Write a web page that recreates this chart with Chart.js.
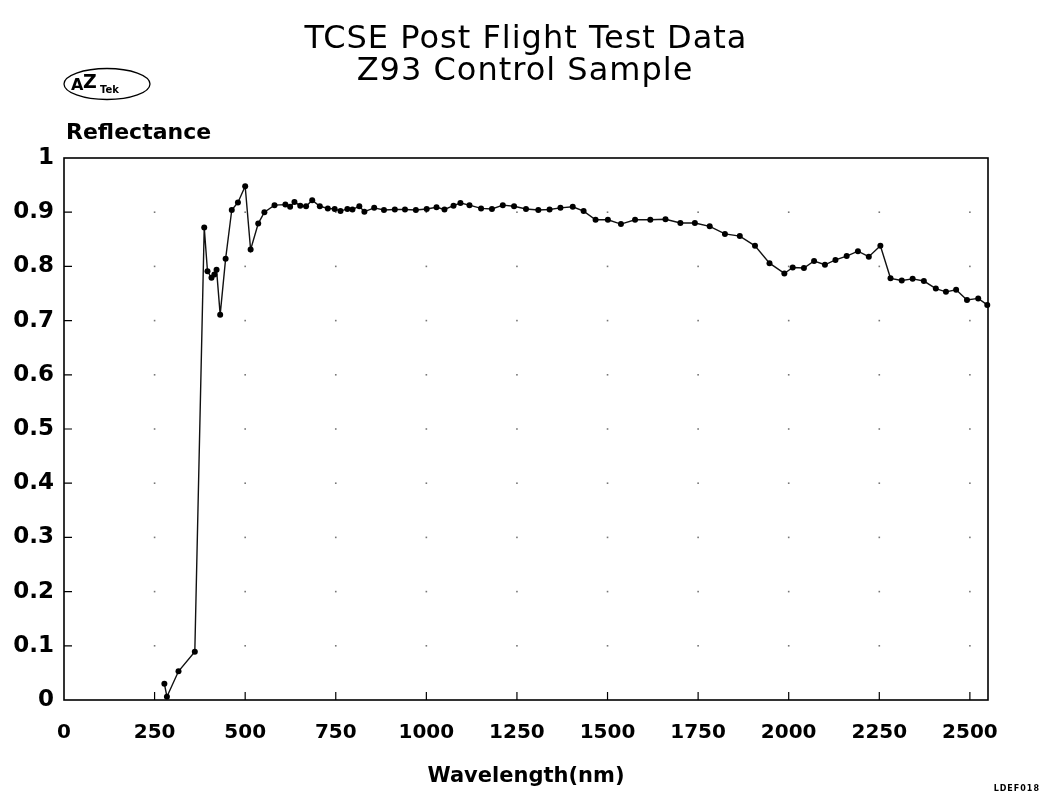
<!DOCTYPE html>
<html>
<head>
<meta charset="utf-8">
<script src="https://cdn.jsdelivr.net/npm/chart.js@4.4.1/dist/chart.umd.min.js"></script>
<style>
html,body{margin:0;padding:0;background:#fff;}
#wrap{width:1044px;height:799px;position:relative;}
canvas{display:block;}
</style>
</head>
<body>
<div id="wrap"><canvas id="c" width="1044" height="799"></canvas></div>
<script>
// ---- data ----
const wavelengths = [
  277, 284, 316, 361, 387, 396, 407, 415, 421, 431,
  446, 463, 480, 500, 515, 536, 553, 581, 611, 624,
  636, 652, 668, 685, 706, 728, 747, 763, 782, 796,
  815, 829, 856, 883, 913, 941, 971, 1001, 1028, 1050,
  1075, 1094, 1119, 1151, 1181, 1211, 1242, 1275, 1309, 1340,
  1370, 1404, 1434, 1467, 1501, 1537, 1576, 1618, 1660, 1701,
  1741, 1782, 1824, 1865, 1907, 1947, 1988, 2011, 2042, 2070,
  2100, 2129, 2160, 2191, 2221, 2253, 2281, 2312, 2342, 2373,
  2406, 2434, 2462, 2492, 2523, 2548
];
const reflectance = [
  0.030, 0.006, 0.053, 0.089, 0.872, 0.791, 0.779, 0.785, 0.794, 0.711,
  0.814, 0.904, 0.918, 0.948, 0.831, 0.879, 0.900, 0.913, 0.914, 0.910,
  0.919, 0.912, 0.911, 0.922, 0.911, 0.907, 0.906, 0.902, 0.906, 0.905,
  0.911, 0.901, 0.908, 0.904, 0.905, 0.905, 0.904, 0.906, 0.909, 0.905,
  0.912, 0.917, 0.913, 0.907, 0.906, 0.913, 0.911, 0.906, 0.904, 0.905,
  0.908, 0.910, 0.902, 0.886, 0.886, 0.878, 0.886, 0.886, 0.887, 0.880,
  0.880, 0.874, 0.860, 0.856, 0.838, 0.806, 0.787, 0.798, 0.797, 0.810,
  0.803, 0.812, 0.819, 0.828, 0.818, 0.838, 0.778, 0.774, 0.777, 0.773,
  0.759, 0.753, 0.757, 0.738, 0.741, 0.729
];
const xTickValues = [0, 250, 500, 750, 1000, 1250, 1500, 1750, 2000, 2250, 2500];
const yTickValues = [0, 0.1, 0.2, 0.3, 0.4, 0.5, 0.6, 0.7, 0.8, 0.9, 1];
const yTickLabels = ['0', '0.1', '0.2', '0.3', '0.4', '0.5', '0.6', '0.7', '0.8', '0.9', '1'];
const titleLines = ['TCSE Post Flight Test Data', 'Z93 Control Sample'];
const yAxisTitle = 'Reflectance';
const xAxisTitle = 'Wavelength(nm)';
const logoParts = ['A', 'Z', 'Tek'];
const footText = 'LDEF018';

const points = wavelengths.map((w, i) => ({x: w, y: reflectance[i]}));
const FONT = '"DejaVu Sans", "Liberation Sans", sans-serif';

const framePlugin = {
  id: 'frame',
  beforeDatasetsDraw(chart) {
    const {ctx, chartArea: a, scales: {x, y}} = chart;
    ctx.save();
    // sparse dotted grid at tick intersections
    ctx.fillStyle = '#777';
    for (let i = 1; i < xTickValues.length; i++) {
      for (let j = 1; j < yTickValues.length - 1; j++) {
        const px = x.getPixelForValue(xTickValues[i]);
        const py = y.getPixelForValue(yTickValues[j]);
        ctx.fillRect(px - 0.8, py - 0.8, 1.6, 1.6);
      }
    }
    // frame
    ctx.strokeStyle = '#000';
    ctx.lineWidth = 1.6;
    ctx.strokeRect(a.left, a.top, a.right - a.left, a.bottom - a.top);
    // inward tick marks
    ctx.lineWidth = 1.2;
    ctx.beginPath();
    for (let i = 1; i < xTickValues.length; i++) {
      const px = x.getPixelForValue(xTickValues[i]);
      ctx.moveTo(px, a.bottom);
      ctx.lineTo(px, a.bottom - 8);
    }
    for (let j = 1; j < yTickValues.length - 1; j++) {
      const py = y.getPixelForValue(yTickValues[j]);
      ctx.moveTo(a.left, py);
      ctx.lineTo(a.left + 8, py);
    }
    ctx.stroke();
    ctx.restore();
  },
  afterDraw(chart) {
    const {ctx} = chart;
    ctx.save();
    ctx.fillStyle = '#000';
    ctx.strokeStyle = '#000';
    // title
    ctx.textAlign = 'center';
    ctx.textBaseline = 'alphabetic';
    ctx.font = '32px ' + FONT;
    ctx.letterSpacing = '1px';
    ctx.fillText(titleLines[0], 526, 48);
    ctx.fillText(titleLines[1], 525, 80);
    ctx.letterSpacing = '0px';
    // y-axis title above the axis
    ctx.textAlign = 'left';
    ctx.font = 'bold 22px ' + FONT;
    ctx.fillText(yAxisTitle, 66, 139);
    // logo
    ctx.lineWidth = 1.3;
    ctx.beginPath();
    ctx.ellipse(107, 84, 43, 15.5, 0, 0, Math.PI * 2);
    ctx.stroke();
    ctx.font = 'bold 16px ' + FONT;
    ctx.fillText(logoParts[0], 71, 90);
    ctx.font = 'bold 19px ' + FONT;
    ctx.fillText(logoParts[1], 83, 88);
    ctx.font = 'bold 10px ' + FONT;
    ctx.fillText(logoParts[2], 100, 93);
    // footer code
    ctx.textAlign = 'right';
    ctx.font = 'bold 8px ' + FONT;
    ctx.letterSpacing = '1px';
    ctx.fillText(footText, 1040, 791);
    ctx.restore();
  }
};

new Chart(document.getElementById('c'), {
  type: 'scatter',
  data: {
    datasets: [{
      data: points,
      showLine: true,
      borderColor: '#111',
      borderWidth: 1.4,
      backgroundColor: '#000',
      pointBackgroundColor: '#000',
      pointBorderWidth: 0,
      pointRadius: 3,
      pointStyle: 'circle',
      tension: 0,
      clip: false
    }]
  },
  options: {
    responsive: false,
    animation: false,
    devicePixelRatio: 1,
    layout: {padding: {top: 158, right: 56, left: 0, bottom: 0}},
    plugins: {legend: {display: false}, tooltip: {enabled: false}, title: {display: false}},
    scales: {
      x: {
        type: 'linear',
        min: 0, max: 2550,
        afterBuildTicks(scale) { scale.ticks = xTickValues.map(v => ({value: v})); },
        afterFit(scale) { scale.height = 99; },
        grid: {display: false, drawTicks: false},
        border: {display: false},
        ticks: {
          color: '#000',
          font: {family: FONT, size: 20, weight: 'bold'},
          padding: 21,
          maxRotation: 0,
          autoSkip: false,
          callback: (v) => String(v)
        },
        title: {
          display: true,
          text: xAxisTitle,
          color: '#000',
          font: {family: FONT, size: 21, weight: 'bold'},
          padding: {top: 0, bottom: 10}
        }
      },
      y: {
        type: 'linear',
        min: 0, max: 1,
        afterBuildTicks(scale) { scale.ticks = yTickValues.map(v => ({value: v})); },
        afterFit(scale) { scale.width = 64; },
        grid: {display: false, drawTicks: false},
        border: {display: false},
        ticks: {
          color: '#000',
          font: {family: FONT, size: 23, weight: 'bold'},
          padding: 10,
          autoSkip: false,
          callback: (v, i) => yTickLabels[i]
        }
      }
    }
  },
  plugins: [framePlugin]
});
</script>
</body>
</html>
